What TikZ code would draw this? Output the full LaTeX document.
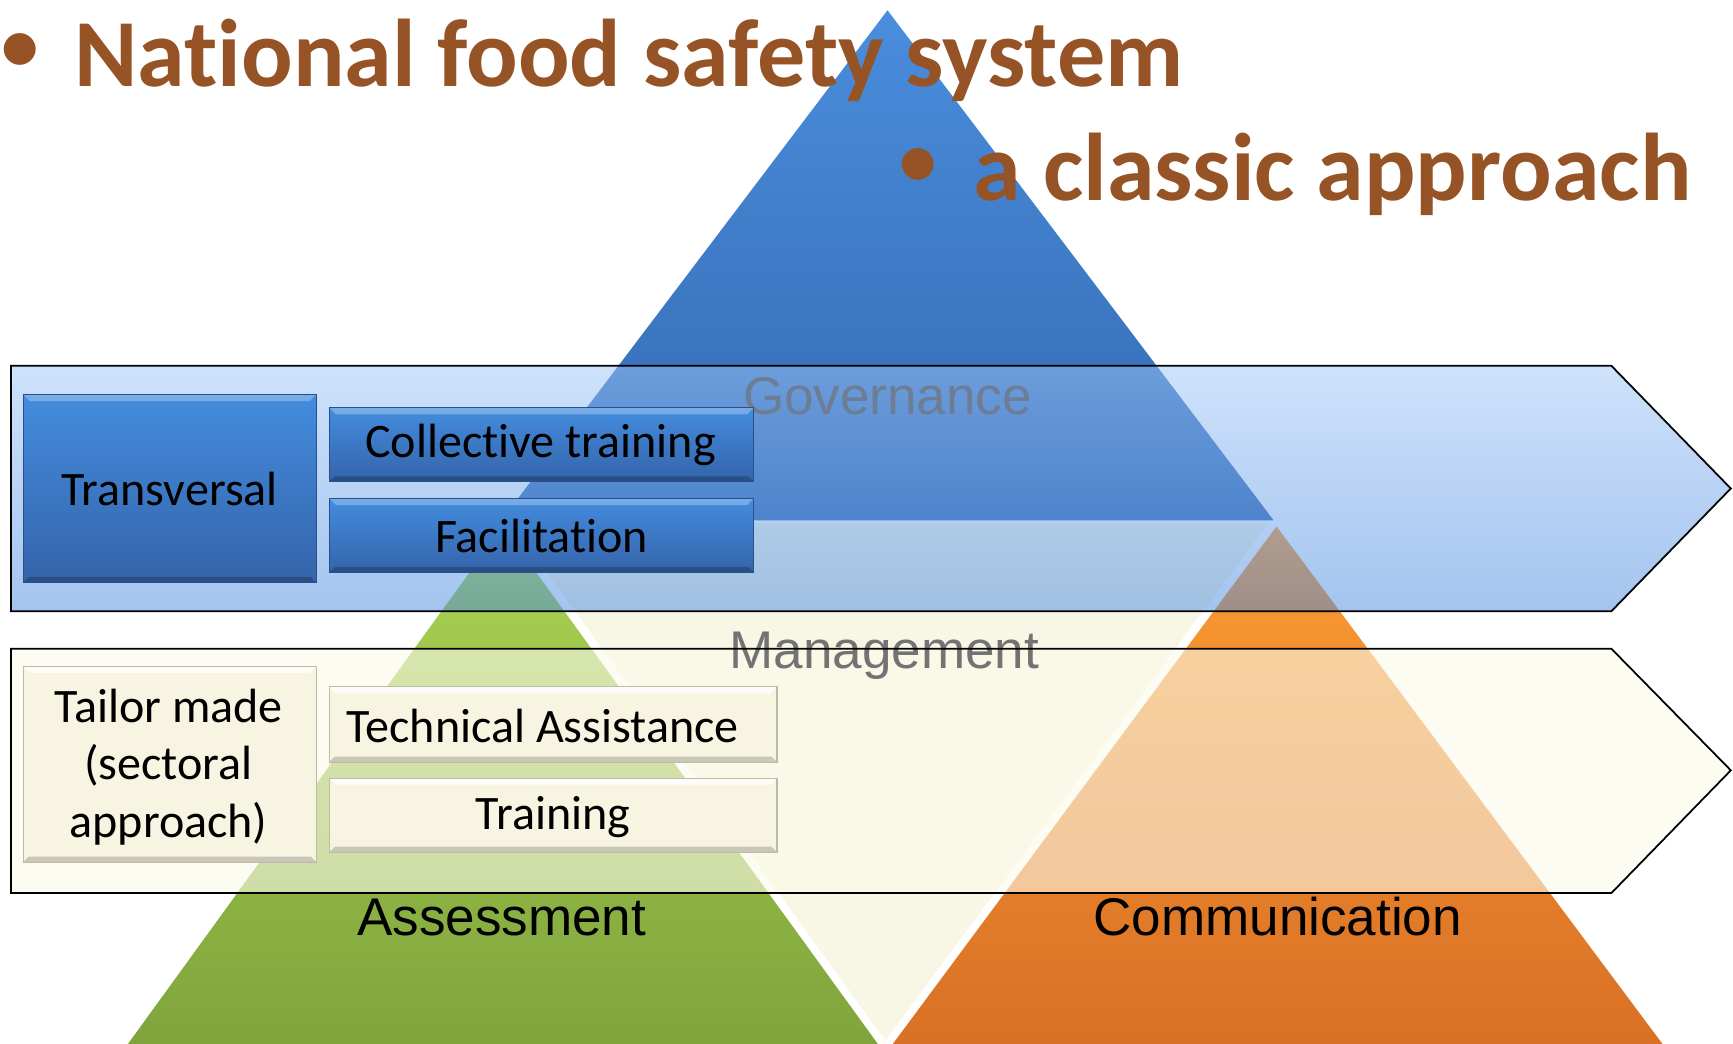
\documentclass[tikz,border=0pt]{standalone}
\usepackage{fontspec}
\setmainfont[Ligatures=NoCommon]{Carlito}
\newfontfamily\arialf{Liberation Sans}
\definecolor{titlebrown}{RGB}{150,83,38}
\definecolor{triblueT}{RGB}{74,142,221}
\definecolor{triblueB}{RGB}{52,104,176}
\definecolor{trigreenT}{RGB}{169,211,83}
\definecolor{trigreenB}{RGB}{128,164,60}
\definecolor{triorT}{RGB}{251,156,51}
\definecolor{triorB}{RGB}{217,112,37}
\definecolor{tricream}{RGB}{248,246,228}
\definecolor{bandblueT}{RGB}{158,198,248}
\definecolor{bandblueB}{RGB}{74,138,224}
\definecolor{bandcream}{RGB}{252,250,234}
\definecolor{boxblueT}{RGB}{68,140,222}
\definecolor{boxblueB}{RGB}{52,100,170}
\definecolor{boxblueline}{RGB}{40,80,140}
\definecolor{boxcream}{RGB}{247,244,226}
\definecolor{boxcreamline}{RGB}{190,186,168}
\definecolor{govgray}{RGB}{108,125,148}
\definecolor{mangray}{RGB}{115,115,115}
\tikzset{
  tri/.style={draw=white, line width=2.5pt, line join=miter},
  bandline/.style={draw=black, line width=1.6pt, line join=miter},
  boxtext/.style={font=\fontsize{43.5}{52}\selectfont, text=black, align=center, inner sep=0pt},
  bluebox/.style={boxtext, draw=boxblueline, line width=1pt, top color=boxblueT, bottom color=boxblueB,
    path picture={
      \fill[white, opacity=0.28] (path picture bounding box.north west) -- (path picture bounding box.north east)
        -- ([xshift=-6pt,yshift=-6pt]path picture bounding box.north east) -- ([xshift=6pt,yshift=-6pt]path picture bounding box.north west) -- cycle;
      \fill[black, opacity=0.22] (path picture bounding box.south west) -- (path picture bounding box.south east)
        -- ([xshift=-5pt,yshift=5pt]path picture bounding box.south east) -- ([xshift=5pt,yshift=5pt]path picture bounding box.south west) -- cycle;
    }},
  creambox/.style={boxtext, draw=boxcreamline, line width=1pt, fill=boxcream,
    path picture={
      \fill[white, opacity=0.8] (path picture bounding box.north west) -- (path picture bounding box.north east)
        -- ([xshift=-6pt,yshift=-6pt]path picture bounding box.north east) -- ([xshift=6pt,yshift=-6pt]path picture bounding box.north west) -- cycle;
      \fill[black, opacity=0.18] (path picture bounding box.south west) -- (path picture bounding box.south east)
        -- ([xshift=-5pt,yshift=5pt]path picture bounding box.south east) -- ([xshift=5pt,yshift=5pt]path picture bounding box.south west) -- cycle;
    }},
  seglabel/.style={font=\arialf\fontsize{48}{56}\selectfont, inner sep=0pt, anchor=base},
  titletext/.style={font=\fontsize{87}{100}\selectfont\bfseries, text=titlebrown, inner sep=0pt, anchor=base west},
  bullettext/.style={font=\fontsize{68}{80}\selectfont\bfseries, text=titlebrown, inner sep=0pt, anchor=base}
}
\begin{document}
\begin{tikzpicture}[x=1pt,y=-1pt]
\useasboundingbox (0,0) rectangle (1568,944);
\fill[white] (0,0) rectangle (1568,944);
\begin{scope}
\clip (0,0) rectangle (1568,944);
% pyramid segments
\path[tri, fill=tricream] (460,472) -- (1150,472) -- (801,944) -- cycle;
\path[tri, top color=trigreenT, bottom color=trigreenB] (455,474) -- (797,946) -- (113,946) -- cycle;
\path[tri, top color=triorT, bottom color=triorB] (1155,474) -- (1507,946) -- (805,946) -- cycle;
\path[tri, top color=triblueT, bottom color=triblueB] (803,7) -- (1155,472) -- (451,472) -- cycle;
% bands (fills)
\path[top color=bandblueT, bottom color=bandblueB, fill opacity=0.5]
  (10,331) -- (1458,331) -- (1566,442) -- (1458,553) -- (10,553) -- cycle;
\path[fill=bandcream, fill opacity=0.6]
  (10,587) -- (1458,587) -- (1566,697) -- (1458,808) -- (10,808) -- cycle;
% segment labels
\node[seglabel, text=govgray] (gov) at (803,375) {Governance};
\node[seglabel, text=mangray] (man) at (800,605) {Management};
% band outlines
\path[bandline] (10,331) -- (1458,331) -- (1566,442) -- (1458,553) -- (10,553) -- cycle;
\path[bandline] (10,587) -- (1458,587) -- (1566,697) -- (1458,808) -- (10,808) -- cycle;
\end{scope}
% boxes
\node[bluebox, minimum width=265pt, minimum height=170pt] (trans) at (153.5,442) {Transversal};
\node[bluebox, minimum width=384pt, minimum height=67pt] (coll) at (490,402.5) {};
\node[boxtext, anchor=center] (colltxt) at (489,402.5) {Collective training};
\node[bluebox, minimum width=384pt, minimum height=67pt] (facil) at (490,484.5) {Facilitation};
\node[creambox, minimum width=265pt, minimum height=177pt] (tailor) at (153.5,691.5) {};
\node[boxtext] (tailortxt) at (152.5,694) {Tailor made\\(sectoral\\approach)};
\node[creambox, minimum width=405pt, minimum height=68pt] (tech) at (500.5,655.5) {};
\node[boxtext] (techtxt) at (491,656.5) {Technical Assistance};
\node[creambox, minimum width=405pt, minimum height=67pt] (train) at (500.5,737.5) {};
\node[boxtext] (traintxt) at (500.5,739) {Training};
% bottom labels
\node[seglabel, text=black] (assess) at (454,846) {Assessment};
\node[seglabel, text=black] (comm) at (1156,846) {Communication};
% title
\node[bullettext] (b1) at (18,64) {•};
\node[titletext] (t1) at (67,78) {National food safety system};
\node[bullettext] (b2) at (831,168) {•};
\node[titletext] (t2) at (881,181) {a classic approach};
\end{tikzpicture}
\end{document}
